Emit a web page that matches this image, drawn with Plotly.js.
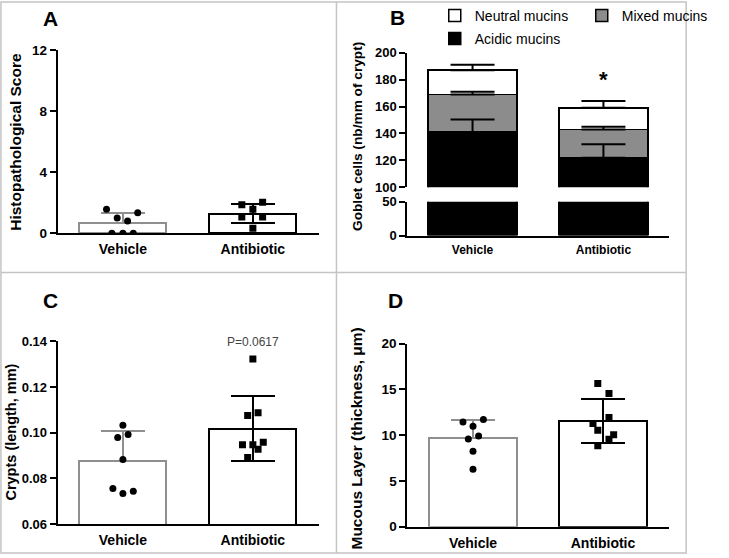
<!DOCTYPE html>
<html>
<head>
<meta charset="utf-8">
<script src="https://cdn.plot.ly/plotly-3.0.1.min.js"></script>
<style>
  html, body { margin: 0; padding: 0; background: white; }
  #grafica { width: 729px; height: 558px; }
</style>
</head>
<body>
<div id="grafica"></div>
<script>
// ---- datos ----
const grupos = ['Vehicle', 'Antibiotic'];

// A: puntaje histopatologico
const histoMedias = [0.68, 1.28];
const histoDE = [0.68, 0.63];
const histoVehiculo = [1.57, 1.35, 1.0, 0.8, 0, 0, 0];
const histoVehiculoDx = [-0.126, 0.114, -0.044, 0.036, -0.085, 0, 0.08];
const histoAntibiotico = [1.87, 2.04, 1.57, 1.07, 1.07, 0.33];
const histoAntibioticoDx = [-0.085, 0.075, 0, -0.085, 0.075, 0];

// B: celulas caliciformes (apiladas)
const acidicas = [141, 122];
const acidicasDE = [9.4, 10];
const mixtas = [28, 21];
const mixtasDE = [2, 2];
const neutras = [18, 16];
const neutrasDE = [4, 5];

// C: longitud de criptas
const criptaMedias = [0.0877, 0.1018];
const criptaDE = [0.013, 0.0141];
const criptaVehiculo = [0.1033, 0.0979, 0.0992, 0.0883, 0.0756, 0.0734, 0.0744];
const criptaVehiculoDx = [0, -0.04, 0.04, 0, -0.077, 0, 0.08];
const criptaAntibiotico = [0.1323, 0.1075, 0.1087, 0.0947, 0.0947, 0.0928, 0.0958, 0.0892];
const criptaAntibioticoDx = [0, -0.04, 0.04, -0.08, 0, 0.04, 0.08, -0.04];

// D: capa mucosa
const mucoMedias = [9.75, 11.55];
const mucoDE = [1.96, 2.43];
const mucoVehiculo = [11.45, 11.71, 10.98, 9.6, 9.92, 8.26, 6.29];
const mucoVehiculoDx = [-0.077, 0.08, 0, -0.036, 0.043, 0, 0];
const mucoAntibiotico = [15.64, 14.55, 11.93, 11.28, 10.55, 10.04, 9.57, 8.84];
const mucoAntibioticoDx = [-0.04, 0.046, 0.046, -0.077, -0.04, 0.082, 0.046, -0.04];

// ---- estilos ----
const FUENTE = 'Arial, "Liberation Sans", sans-serif';
const GRIS = '#8f8f8f';
const GRIS_MIXTO = '#8c8c8c';
const BORDE = '#c4c4c4';
const ANCHO_BARRA = 0.67;

function px(x){ return x / 729; }
function py(y){ return 1 - y / 558; }
function negrita(tam){ return {family: FUENTE, size: tam, color: 'black', weight: 'bold'}; }

function barra(xa, ya, pos, media, de, soloArriba, color){
    return {
        type: 'bar', x: [pos], y: [media], width: ANCHO_BARRA,
        xaxis: xa, yaxis: ya, showlegend: false, hoverinfo: 'skip',
        marker: {color: 'white', line: {color: color, width: 2}},
        error_y: {type: 'data', symmetric: false, array: [de], arrayminus: [soloArriba ? 0 : de],
                  color: color, thickness: 2, width: 22}
    };
}

function puntos(xa, ya, pos, valores, dx, simbolo){
    return {
        type: 'scatter', mode: 'markers', xaxis: xa, yaxis: ya, showlegend: false,
        x: dx.map(d => pos + d), y: valores, hoverinfo: 'skip',
        marker: {symbol: simbolo, size: 7, color: 'black'}
    };
}

function ejeY(dominio, rango, valores, extra){
    return Object.assign({
        domain: dominio, range: rango, tickvals: valores,
        showline: true, linecolor: 'black', linewidth: 2,
        ticks: 'outside', ticklen: 6, tickwidth: 2, tickcolor: 'black',
        showgrid: false, zeroline: false, fixedrange: true,
        tickfont: negrita(13.5)
    }, extra || {});
}

function ejeX(dominio, rango, ancla, extra){
    return Object.assign({
        domain: dominio, range: rango, anchor: ancla,
        tickvals: [0, 1], ticktext: grupos, ticks: '', ticklabelstandoff: 2,
        showline: true, linecolor: 'black', linewidth: 2,
        showgrid: false, zeroline: false, fixedrange: true,
        tickfont: negrita(14)
    }, extra || {});
}

let datos = [];

// A
datos.push(barra('x', 'y', 0, histoMedias[0], histoDE[0], true, GRIS));
datos.push(barra('x', 'y', 1, histoMedias[1], histoDE[1], false, 'black'));
datos.push(puntos('x', 'y', 0, histoVehiculo, histoVehiculoDx, 'circle'));
datos.push(puntos('x', 'y', 1, histoAntibiotico, histoAntibioticoDx, 'square'));

// B parte superior (apilada) y parte inferior del eje cortado
const topeAcidicas = acidicas;
const topeMixtas = acidicas.map((v, i) => v + mixtas[i]);
const topeNeutras = topeMixtas.map((v, i) => v + neutras[i]);

datos.push({type: 'bar', name: 'Acidic mucins', x: [0, 1], y: acidicas, width: 0.68,
    xaxis: 'x2', yaxis: 'y2', legend: 'legend2', hoverinfo: 'skip',
    marker: {color: 'black', line: {color: 'black', width: 1.5}}});
datos.push({type: 'bar', name: 'Mixed mucins', x: [0, 1], y: mixtas, width: 0.68,
    xaxis: 'x2', yaxis: 'y2', legend: 'legend', legendrank: 2, hoverinfo: 'skip',
    marker: {color: GRIS_MIXTO, line: {color: 'black', width: 1.5}}});
datos.push({type: 'bar', name: 'Neutral mucins', x: [0, 1], y: neutras, width: 0.68,
    xaxis: 'x2', yaxis: 'y2', legend: 'legend', legendrank: 1, hoverinfo: 'skip',
    marker: {color: 'white', line: {color: 'black', width: 1.5}}});
datos.push({type: 'bar', x: [0, 1], y: acidicas, width: 0.68, showlegend: false,
    xaxis: 'x2', yaxis: 'y3', hoverinfo: 'skip',
    marker: {color: 'black', line: {color: 'black', width: 1.5}}});

[[topeAcidicas, acidicasDE], [topeMixtas, mixtasDE], [topeNeutras, neutrasDE]].forEach(function(par){
    datos.push({type: 'scatter', mode: 'markers', x: [0, 1], y: par[0], xaxis: 'x2', yaxis: 'y2',
        showlegend: false, hoverinfo: 'skip', marker: {size: 1, opacity: 0},
        error_y: {type: 'data', symmetric: false, array: par[1], arrayminus: [0, 0],
                  color: 'black', thickness: 2, width: 22}});
});

// C
datos.push(barra('x4', 'y4', 0, criptaMedias[0], criptaDE[0], true, GRIS));
datos.push(barra('x4', 'y4', 1, criptaMedias[1], criptaDE[1], false, 'black'));
datos.push(puntos('x4', 'y4', 0, criptaVehiculo, criptaVehiculoDx, 'circle'));
datos.push(puntos('x4', 'y4', 1, criptaAntibiotico, criptaAntibioticoDx, 'square'));

// D
datos.push(barra('x5', 'y5', 0, mucoMedias[0], mucoDE[0], true, GRIS));
datos.push(barra('x5', 'y5', 1, mucoMedias[1], mucoDE[1], false, 'black'));
datos.push(puntos('x5', 'y5', 0, mucoVehiculo, mucoVehiculoDx, 'circle'));
datos.push(puntos('x5', 'y5', 1, mucoAntibiotico, mucoAntibioticoDx, 'square'));

function letra(texto, x, y){
    return {text: texto, xref: 'paper', yref: 'paper', x: px(x), y: py(y),
            xanchor: 'center', yanchor: 'middle', showarrow: false, font: negrita(21)};
}
function tituloY(texto, x, y, tam){
    return {text: texto, xref: 'paper', yref: 'paper', x: px(x), y: py(y), textangle: -90,
            xanchor: 'center', yanchor: 'middle', showarrow: false, font: negrita(tam)};
}

const layout = {
    width: 729, height: 558,
    margin: {l: 0, r: 0, t: 0, b: 0},
    paper_bgcolor: 'white', plot_bgcolor: 'rgba(0,0,0,0)',
    barmode: 'stack',
    showlegend: true,
    font: {family: FUENTE, color: 'black'},

    xaxis:  ejeX([px(61), px(337)], [-0.502, 1.505], 'y'),
    yaxis:  ejeY([py(232.7), py(49.3)], [0, 12], [0, 4, 8, 12], {anchor: 'x'}),

    xaxis2: ejeX([px(431), px(708)], [-0.498, 1.502], 'y3', {tickfont: negrita(12)}),
    yaxis2: ejeY([py(186.7), py(51.7)], [100, 200], [100, 120, 140, 160, 180, 200], {anchor: 'x2', tickfont: negrita(13)}),
    yaxis3: ejeY([py(235), py(201)], [0, 50], [0, 50], {anchor: 'x2', tickfont: negrita(13)}),

    xaxis4: ejeX([px(61), px(337)], [-0.502, 1.505], 'y4'),
    yaxis4: ejeY([py(524), py(341)], [0.06, 0.14], [0.06, 0.08, 0.10, 0.12, 0.14], {anchor: 'x4', tickformat: '.2f', tickfont: negrita(13)}),

    xaxis5: ejeX([px(431), px(708)], [-0.505, 1.509], 'y5'),
    yaxis5: ejeY([py(526.7), py(343.3)], [0, 20], [0, 5, 10, 15, 20], {anchor: 'x5'}),

    legend: {orientation: 'h', x: px(460), y: py(15), xanchor: 'left', yanchor: 'middle',
             traceorder: 'normal', entrywidth: 102, entrywidthmode: 'pixels',
             bgcolor: 'rgba(0,0,0,0)', font: {family: FUENTE, size: 14, color: 'black'}},
    legend2: {orientation: 'h', x: px(460), y: py(38), xanchor: 'left', yanchor: 'middle',
              bgcolor: 'rgba(0,0,0,0)', font: {family: FUENTE, size: 14, color: 'black'}},

    annotations: [
        letra('A', 53, 18), letra('B', 421, 17), letra('C', 53, 300), letra('D', 418, 300),
        tituloY('Histopathological Score', 17, 141, 15.5),
        tituloY('Goblet cells (nb/mm of crypt)', 378, 136, 13.7),
        tituloY('Crypts (length, mm)', 12, 432, 14.5),
        tituloY('Mucous Layer (thickness, μm)', 377, 438, 15.5),
        {text: '*', xref: 'x2', yref: 'y2', x: 1, y: 180, showarrow: false, font: negrita(22)},
        {text: 'P=0.0617', xref: 'x4', yref: 'y4', x: 1, y: 0.1397, showarrow: false,
         font: {family: FUENTE, size: 12, color: '#444444'}}
    ],

    shapes: [
        {type: 'rect', xref: 'paper', yref: 'paper', x0: px(1), x1: px(726), y0: py(553), y1: py(1),
         line: {color: BORDE, width: 1.5}},
        {type: 'line', xref: 'paper', yref: 'paper', x0: px(356), x1: px(356), y0: py(553), y1: py(1),
         line: {color: BORDE, width: 1.5}},
        {type: 'line', xref: 'paper', yref: 'paper', x0: px(1), x1: px(726), y0: py(272), y1: py(272),
         line: {color: BORDE, width: 1.5}}
    ]
};

Plotly.newPlot(document.getElementById('grafica'), datos, layout, {displayModeBar: false, staticPlot: true});
</script>
</body>
</html>
